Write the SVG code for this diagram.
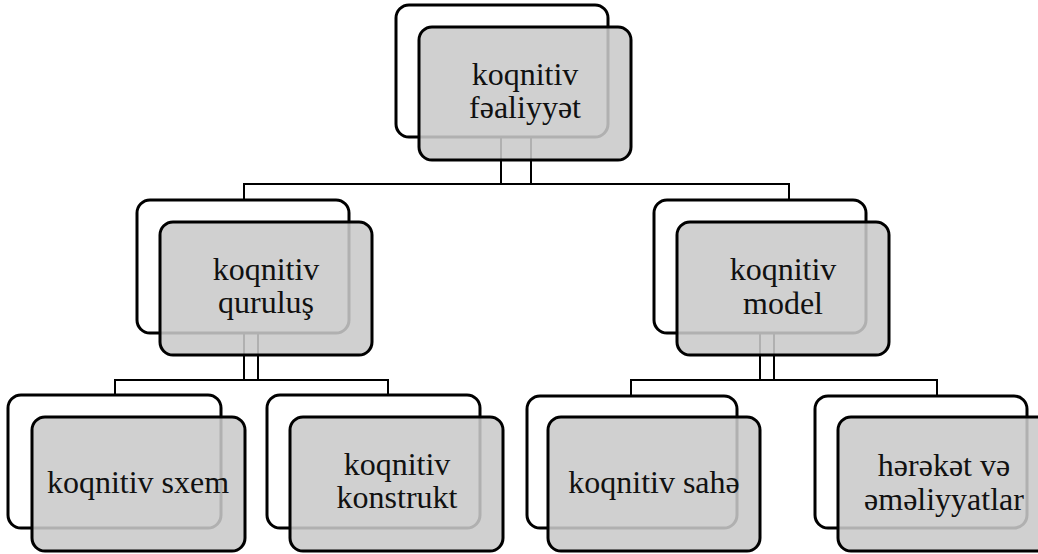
<svg xmlns="http://www.w3.org/2000/svg" width="1038" height="554" viewBox="0 0 1038 554">
<style>
.bg{fill:#fff;}
.back{fill:#fff;stroke:#000;stroke-width:3;}
.front{fill:#c9c9c9;fill-opacity:0.875;stroke:#000;stroke-width:3;}
.conn{fill:none;stroke:#000;stroke-width:2;}
</style>
<rect class="bg" x="0" y="0" width="1038" height="554"/>
<g id="connectors">
<path class="conn" d="M501,137 V184 M531,137 V184 M244,200 V184 H789 V200"/>
<path class="conn" d="M244,334 V380 M258,334 V380 M115,395 V380 H388 V395"/>
<path class="conn" d="M760,333 V380 M774,333 V380 M631,396 V380 H937 V396"/>
</g>
<g id="node-fealiyyet">
<rect class="back" x="396" y="5" width="212" height="132" rx="13"/>
<rect class="front" x="419" y="27" width="212" height="133" rx="13"/>
<text x="525" y="85" font-family="'Liberation Serif', 'Noto Serif', serif" font-size="32" fill="#111" text-anchor="middle">koqnitiv</text>
<text x="525" y="118" font-family="'Liberation Serif', 'Noto Serif', serif" font-size="32" fill="#111" text-anchor="middle">fəaliyyət</text>
</g>
<g id="node-qurulus">
<rect class="back" x="137" y="200" width="212" height="133" rx="13"/>
<rect class="front" x="160" y="222" width="212" height="133" rx="13"/>
<text x="266" y="280" font-family="'Liberation Serif', 'Noto Serif', serif" font-size="32" fill="#111" text-anchor="middle">koqnitiv</text>
<text x="266" y="313" font-family="'Liberation Serif', 'Noto Serif', serif" font-size="32" fill="#111" text-anchor="middle">quruluş</text>
</g>
<g id="node-model">
<rect class="back" x="654" y="200" width="212" height="133" rx="13"/>
<rect class="front" x="677" y="222" width="212" height="133" rx="13"/>
<text x="783" y="280" font-family="'Liberation Serif', 'Noto Serif', serif" font-size="32" fill="#111" text-anchor="middle">koqnitiv</text>
<text x="783" y="314" font-family="'Liberation Serif', 'Noto Serif', serif" font-size="32" fill="#111" text-anchor="middle">model</text>
</g>
<g id="node-sxem">
<rect class="back" x="8" y="395" width="213" height="133" rx="13"/>
<rect class="front" x="32" y="417" width="213" height="134" rx="13"/>
<text x="138" y="493" font-family="'Liberation Serif', 'Noto Serif', serif" font-size="32" fill="#111" text-anchor="middle">koqnitiv sxem</text>
</g>
<g id="node-konstrukt">
<rect class="back" x="267" y="395" width="213" height="133" rx="13"/>
<rect class="front" x="290" y="417" width="213" height="134" rx="13"/>
<text x="397" y="475" font-family="'Liberation Serif', 'Noto Serif', serif" font-size="32" fill="#111" text-anchor="middle">koqnitiv</text>
<text x="397" y="508" font-family="'Liberation Serif', 'Noto Serif', serif" font-size="32" fill="#111" text-anchor="middle">konstrukt</text>
</g>
<g id="node-sahe">
<rect class="back" x="527" y="396" width="210" height="132" rx="13"/>
<rect class="front" x="548" y="417" width="212" height="134" rx="13"/>
<text x="654" y="493" font-family="'Liberation Serif', 'Noto Serif', serif" font-size="32" fill="#111" text-anchor="middle">koqnitiv sahə</text>
</g>
<g id="node-hereket">
<rect class="back" x="815" y="396" width="212" height="132" rx="13"/>
<rect class="front" x="838" y="417" width="212" height="134" rx="13"/>
<text x="944" y="476" font-family="'Liberation Serif', 'Noto Serif', serif" font-size="32" fill="#111" text-anchor="middle">hərəkət və</text>
<text x="944" y="510" font-family="'Liberation Serif', 'Noto Serif', serif" font-size="32" fill="#111" text-anchor="middle">əməliyyatlar</text>
</g>
</svg>
